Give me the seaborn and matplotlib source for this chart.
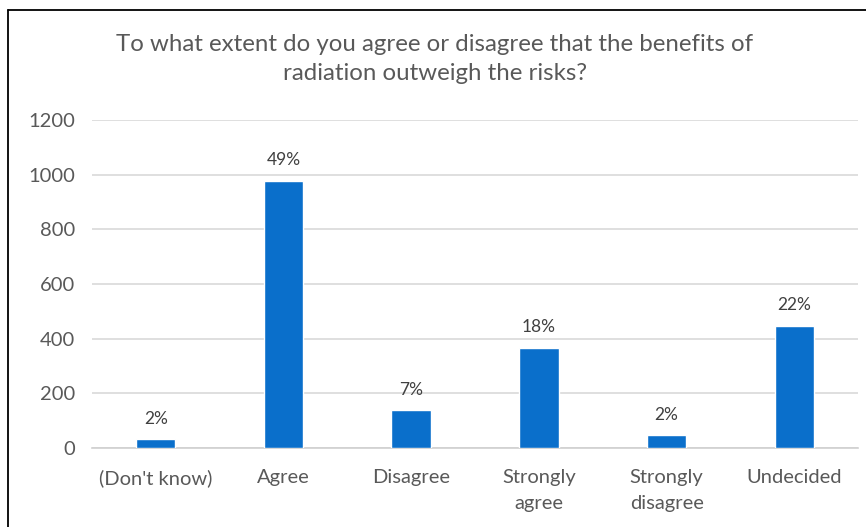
import matplotlib
matplotlib.use("Agg")
import matplotlib.pyplot as plt
from matplotlib.lines import Line2D
import seaborn as sns
import pandas as pd

# Survey responses (counts)
categories = ["(Don't know)", "Agree", "Disagree", "Strongly\nagree", "Strongly\ndisagree", "Undecided"]
counts = [31, 978, 138, 366, 47, 448]
y_ticks = [0, 200, 400, 600, 800, 1000, 1200]

title = "To what extent do you agree or disagree that the benefits of\nradiation outweigh the risks?"

df = pd.DataFrame({"response": categories, "count": counts})
total = sum(counts)

sns.set_theme(style="white")
plt.rcParams["font.family"] = ["Lato", "DejaVu Sans"]

text_gray = "#595959"
bar_blue = "#0A6FCB"

fig = plt.figure(figsize=(8.66, 5.27), dpi=100)
ax = fig.add_axes([0.106, 0.150, 0.885, 0.622])

sns.barplot(data=df, x="response", y="count", color=bar_blue, width=0.31,
            saturation=1, ax=ax, zorder=3)

ax.set_ylim(0, 1200)
ax.set_yticks(y_ticks)
ax.set_xlim(-0.5, len(categories) - 0.5)
ax.yaxis.grid(True, color="#D9D9D9", linewidth=1.2, zorder=0)
ax.set_axisbelow(True)
for side in ["top", "right", "left"]:
    ax.spines[side].set_visible(False)
ax.spines["bottom"].set_color("#D0D0D0")
ax.spines["bottom"].set_linewidth(1.2)
ax.set_xlabel("")
ax.set_ylabel("")
ax.tick_params(axis="both", length=0, colors=text_gray, labelsize=14.5)
ax.tick_params(axis="x", pad=15)
ax.tick_params(axis="y", pad=12)
for lbl in ax.get_xticklabels():
    lbl.set_color(text_gray)
    lbl.set_linespacing(1.65)
for lbl in ax.get_yticklabels():
    lbl.set_color(text_gray)

# Percentage share above each bar
for i, c in enumerate(counts):
    pct = round(100 * c / total)
    ax.annotate(f"{pct}%", xy=(i, c), xytext=(0, 9), textcoords="offset points",
                ha="center", va="bottom", fontsize=12.5, color="#404040")

fig.text(0.502, 0.888, title, ha="center", va="center", fontsize=17.3,
         color=text_gray, linespacing=1.5)

# Chart frame (top and left edges)
fig.add_artist(Line2D([8 / 866, 1.0], [1 - 10 / 527, 1 - 10 / 527],
                      transform=fig.transFigure, color="black", linewidth=1.3))
fig.add_artist(Line2D([8 / 866, 8 / 866], [0.0, 1 - 10 / 527],
                      transform=fig.transFigure, color="black", linewidth=1.3))

fig.savefig("out.png", dpi=100, facecolor="white")
